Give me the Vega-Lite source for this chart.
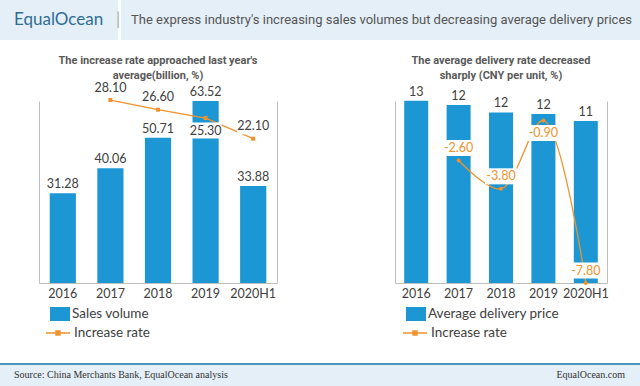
{
  "$schema": "https://vega.github.io/schema/vega-lite/v6.json",
  "padding": 0,
  "background": "white",
  "datasets": {
    "sales": [
      {"year": "2016", "sales": 31.28, "rate": null},
      {"year": "2017", "sales": 40.06, "rate": 28.10},
      {"year": "2018", "sales": 50.71, "rate": 26.60},
      {"year": "2019", "sales": 63.52, "rate": 25.30},
      {"year": "2020H1", "sales": 33.88, "rate": 22.10}
    ],
    "price": [
      {"year": "2016", "price": 12.7, "rate": null},
      {"year": "2017", "price": 12.4, "rate": -2.6},
      {"year": "2018", "price": 11.88, "rate": -3.8},
      {"year": "2019", "price": 11.77, "rate": -0.9},
      {"year": "2020H1", "price": 11.29, "rate": -7.8}
    ]
  },
  "vconcat": [
    {
      "vconcat": [
        {
          "hconcat": [
            {
              "width": 110, "height": 40,
              "view": {"fill": "#E4EFF7", "stroke": null},
              "data": {"values": []},
              "mark": "point",
              "title": {"text": "EqualOcean", "anchor": "start", "dx": 14, "offset": -29, "font": "Lato", "fontSize": 17, "fontWeight": "normal", "color": "#2F6D93"}
            },
            {
              "width": 8, "height": 40,
              "view": {"fill": "#E4EFF7", "stroke": null},
              "data": {"values": []},
              "mark": "point",
              "title": {"text": "|", "anchor": "start", "dx": 6, "offset": -29, "font": "Lato", "fontSize": 17, "fontWeight": "normal", "color": "#AAAAAA"}
            },
            {
              "width": 522, "height": 40,
              "view": {"fill": "#E4EFF7", "stroke": null},
              "data": {"values": []},
              "mark": "point",
              "title": {"text": "The express industry's increasing sales volumes but decreasing average delivery prices", "anchor": "start", "dx": 10, "offset": -27, "font": "Roboto", "fontSize": 13, "fontWeight": "normal", "color": "#555555"}
            }
          ],
          "spacing": 0
        },
        {
          "hconcat": [
            {
              "width": 39, "height": 182,
              "data": {"values": []},
              "mark": "point"
            },
            {
              "width": 238, "height": 182,
              "data": {"name": "sales"},
              "title": {"text": ["The increase rate approached last year's", "average(billion, %)"], "font": "Roboto", "fontSize": 11, "fontWeight": "bold", "color": "#595959", "lineHeight": 14.5, "offset": -1, "anchor": "middle"},
              "encoding": {
                "x": {"field": "year", "type": "ordinal", "sort": null,
                  "scale": {"type": "band", "paddingInner": 0.45, "paddingOuter": 0.225},
                  "axis": {"title": null, "domainColor": "#BFBFBF", "ticks": false, "labelFont": "Lato", "labelFontSize": 12.5, "labelColor": "#404040", "labelPadding": 4, "labelAngle": 0, "grid": false}}
              },
              "layer": [
                {
                  "encoding": {
                    "y": {"field": "sales", "type": "quantitative", "scale": {"domain": [0, 63.5], "nice": false, "zero": true},
                      "axis": {"orient": "left", "title": null, "labels": false, "ticks": false, "grid": false, "domainColor": "#BFBFBF", "minExtent": 0, "maxExtent": 0}}
                  },
                  "layer": [
                    {
                      "mark": {"type": "bar"},
                      "encoding": {
                        "color": {"datum": "Sales volume", "scale": {"range": ["#1C97D4"]},
                          "legend": {"orient": "none", "legendX": 11, "legendY": 203, "title": null, "padding": 0, "symbolType": "M-1,-0.7H1V0.7H-1Z", "symbolSize": 400, "symbolStrokeWidth": 0, "labelFont": "Lato", "labelFontSize": 13.5, "labelColor": "#404040", "labelOffset": 2}}
                      }
                    },
                    {
                      "mark": {"type": "text", "dy": -9, "font": "Lato", "fontSize": 12.5, "color": "#404040", "baseline": "middle"},
                      "encoding": {"text": {"field": "sales", "type": "quantitative", "format": ".2f"}}
                    }
                  ]
                },
                {
                  "transform": [{"filter": "datum.rate != null"}],
                  "encoding": {
                    "y": {"field": "rate", "type": "quantitative", "scale": {"domain": [-0.3, 27.95], "nice": false, "zero": false},
                      "axis": {"orient": "right", "title": null, "labels": false, "ticks": false, "grid": false, "domainColor": "#BFBFBF", "minExtent": 0, "maxExtent": 0}}
                  },
                  "layer": [
                    {
                      "mark": {"type": "line", "strokeWidth": 1.3},
                      "encoding": {
                        "stroke": {"datum": "Increase rate", "scale": {"range": ["#F0922E"]},
                          "legend": {"orient": "none", "legendX": 6, "legendY": 219, "title": null, "padding": 0, "symbolType": "M-1,0H1M-0.17,-0.17H0.17V0.17H-0.17Z", "symbolSize": 576, "symbolStrokeWidth": 1.3, "symbolFillColor": "#F0922E", "labelFont": "Lato", "labelFontSize": 13.5, "labelColor": "#404040", "labelOffset": 3}}
                      }
                    },
                    {
                      "mark": {"type": "point", "shape": "square", "filled": true, "size": 16, "color": "#F0922E", "opacity": 1}
                    },
                    {
                      "transform": [{"filter": "datum.year !== '2019'"}],
                      "layer": [
                        {"mark": {"type": "point", "shape": "M-1,-0.5H1V0.5H-1Z", "filled": true, "color": "white", "opacity": 1, "size": 1024, "yOffset": -12.5}},
                        {"mark": {"type": "text", "dy": -12.5, "font": "Lato", "fontSize": 12.5, "color": "#404040", "baseline": "middle"},
                          "encoding": {"text": {"field": "rate", "type": "quantitative", "format": ".2f"}}}
                      ]
                    },
                    {
                      "transform": [{"filter": "datum.year === '2019'"}],
                      "layer": [
                        {"mark": {"type": "point", "shape": "M-1,-0.5H1V0.5H-1Z", "filled": true, "color": "white", "opacity": 1, "size": 1024, "yOffset": 12.5}},
                        {"mark": {"type": "text", "dy": 12.5, "font": "Lato", "fontSize": 12.5, "color": "#404040", "baseline": "middle"},
                          "encoding": {"text": {"field": "rate", "type": "quantitative", "format": ".2f"}}}
                      ]
                    }
                  ]
                }
              ],
              "resolve": {"scale": {"y": "independent"}}
            },
            {
              "width": 212, "height": 182,
              "data": {"name": "price"},
              "title": {"text": ["The average delivery rate decreased", "sharply (CNY per unit, %)"], "font": "Roboto", "fontSize": 11, "fontWeight": "bold", "color": "#595959", "lineHeight": 14.5, "offset": 5, "anchor": "middle"},
              "encoding": {
                "x": {"field": "year", "type": "ordinal", "sort": null,
                  "scale": {"type": "band", "paddingInner": 0.434, "paddingOuter": 0.217},
                  "axis": {"title": null, "domainColor": "#BFBFBF", "ticks": false, "labelFont": "Lato", "labelFontSize": 12.5, "labelColor": "#404040", "labelPadding": 4, "labelAngle": 0, "grid": false}}
              },
              "layer": [
                {
                  "encoding": {
                    "y": {"field": "price", "type": "quantitative", "scale": {"domain": [0, 12.68], "nice": false, "zero": true},
                      "axis": {"orient": "left", "title": null, "labels": false, "ticks": false, "grid": false, "domainColor": "#BFBFBF", "minExtent": 118, "maxExtent": 118}}
                  },
                  "layer": [
                    {
                      "mark": {"type": "bar"},
                      "encoding": {
                        "color": {"datum": "Average delivery price", "scale": {"range": ["#1C97D4"]},
                          "legend": {"orient": "none", "legendX": 11, "legendY": 203, "title": null, "padding": 0, "symbolType": "M-1,-0.7H1V0.7H-1Z", "symbolSize": 400, "symbolStrokeWidth": 0, "labelFont": "Lato", "labelFontSize": 13.5, "labelColor": "#404040", "labelOffset": 2}}
                      }
                    },
                    {
                      "mark": {"type": "text", "dy": -9, "font": "Lato", "fontSize": 12.5, "color": "#404040", "baseline": "middle"},
                      "encoding": {"text": {"field": "price", "type": "quantitative", "format": ".0f"}}
                    }
                  ]
                },
                {
                  "transform": [{"filter": "datum.rate != null"}],
                  "encoding": {
                    "y": {"field": "rate", "type": "quantitative", "scale": {"domain": [-7.8, -0.07], "nice": false, "zero": false},
                      "axis": {"orient": "right", "title": null, "labels": false, "ticks": false, "grid": false, "domainColor": "#BFBFBF", "minExtent": 0, "maxExtent": 0}}
                  },
                  "layer": [
                    {
                      "mark": {"type": "line", "strokeWidth": 1.3, "interpolate": "catmull-rom"},
                      "encoding": {
                        "stroke": {"datum": "Increase rate", "scale": {"range": ["#F0922E"]},
                          "legend": {"orient": "none", "legendX": 7, "legendY": 219, "title": null, "padding": 0, "symbolType": "M-1,0H1M-0.17,-0.17H0.17V0.17H-0.17Z", "symbolSize": 576, "symbolStrokeWidth": 1.3, "symbolFillColor": "#F0922E", "labelFont": "Lato", "labelFontSize": 13.5, "labelColor": "#404040", "labelOffset": 3}}
                      }
                    },
                    {
                      "mark": {"type": "point", "shape": "circle", "filled": true, "size": 16, "color": "#F0922E", "opacity": 1}
                    },
                    {
                      "transform": [{"filter": "datum.year !== '2019'"}],
                      "layer": [
                        {"mark": {"type": "point", "shape": "M-1,-0.5H1V0.5H-1Z", "filled": true, "color": "white", "opacity": 1, "size": 1024, "yOffset": -12.5}},
                        {"mark": {"type": "text", "dy": -12.5, "font": "Lato", "fontSize": 12.5, "color": "#F0922E", "baseline": "middle"},
                          "encoding": {"text": {"field": "rate", "type": "quantitative", "format": ".2f"}}}
                      ]
                    },
                    {
                      "transform": [{"filter": "datum.year === '2019'"}],
                      "layer": [
                        {"mark": {"type": "point", "shape": "M-1,-0.5H1V0.5H-1Z", "filled": true, "color": "white", "opacity": 1, "size": 1024, "yOffset": 12.5}},
                        {"mark": {"type": "text", "dy": 12.5, "font": "Lato", "fontSize": 12.5, "color": "#F0922E", "baseline": "middle"},
                          "encoding": {"text": {"field": "rate", "type": "quantitative", "format": ".2f"}}}
                      ]
                    }
                  ]
                }
              ],
              "resolve": {"scale": {"y": "independent"}}
            }
          ],
          "spacing": 0,
          "resolve": {"scale": {"color": "independent", "stroke": "independent"}}
        }
      ],
      "spacing": 15
    },
    {
      "vconcat": [
        {
          "width": 640, "height": 2,
          "view": {"fill": "#4A98B8", "stroke": null},
          "data": {"values": []},
          "mark": "point"
        },
        {
          "hconcat": [
            {
              "width": 400, "height": 23,
              "view": {"fill": "#E4EFF7", "stroke": null},
              "data": {"values": []},
              "mark": "point",
              "title": {"text": "Source: China Merchants Bank, EqualOcean analysis", "anchor": "start", "dx": 14, "offset": -14.5, "font": "Liberation Serif", "fontSize": 10, "fontWeight": "normal", "color": "#333333"}
            },
            {
              "width": 240, "height": 23,
              "view": {"fill": "#E4EFF7", "stroke": null},
              "data": {"values": []},
              "mark": "point",
              "title": {"text": "EqualOcean.com", "anchor": "end", "dx": -15, "offset": -14.5, "font": "Liberation Serif", "fontSize": 10, "fontWeight": "normal", "color": "#333333"}
            }
          ],
          "spacing": 0
        }
      ],
      "spacing": 0
    }
  ],
  "spacing": 23,
  "config": {
    "view": {"stroke": null},
    "locale": {"number": {"decimal": ".", "thousands": ",", "grouping": [3], "currency": ["", ""], "minus": "-"}}
  }
}
